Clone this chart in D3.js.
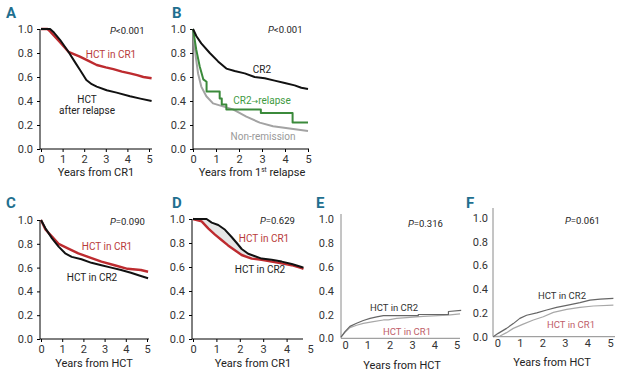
<!DOCTYPE html>
<html><head><meta charset="utf-8">
<script src="https://cdn.jsdelivr.net/npm/d3@7"></script>
<style>
body{margin:0;background:#fff}
text{font-family:Roboto,"Liberation Sans",sans-serif}
</style>
</head><body>
<svg id="c" width="617" height="371"></svg>
<script>
// ---------- data ----------
const yTicks = [0, 0.2, 0.4, 0.6, 0.8, 1.0];
const xTicks = [0, 1, 2, 3, 4, 5];

// Panel A: overall survival from CR1
const aHctCR1 = [[0,1],[0.3,1],[0.42,0.98],[0.88,0.89],[1.27,0.81],[1.8,0.77],[2.2,0.735],[2.58,0.70],[3.0,0.68],[3.35,0.665],[3.75,0.645],[4.12,0.63],[4.45,0.615],[4.74,0.60],[5.12,0.59]];
const aHctRelapse = [[0,1],[0.42,1],[0.6,0.97],[0.88,0.91],[1.27,0.81],[1.55,0.73],[1.8,0.66],[2.1,0.575],[2.35,0.54],[2.58,0.52],[3.04,0.49],[3.5,0.47],[4.12,0.44],[4.6,0.42],[5.12,0.40]];

// Panel B: survival from 1st relapse
const bCR2 = [[0,1],[0.15,0.94],[0.36,0.88],[0.73,0.80],[1.09,0.73],[1.45,0.67],[1.81,0.65],[2.25,0.63],[2.68,0.60],[3.12,0.59],[3.55,0.57],[3.99,0.55],[4.42,0.53],[4.71,0.51],[5.0,0.50]];
const bCR2Relapse = [[0,1],[0.14,0.83],[0.29,0.69],[0.45,0.58],[0.59,0.56],[0.59,0.48],[1.16,0.48],[1.16,0.42],[1.25,0.42],[1.25,0.37],[1.45,0.37],[1.45,0.33],[2.95,0.33],[2.95,0.30],[4.33,0.30],[4.33,0.22],[5.0,0.22]];
const bNonRemission = [[0,1],[0.12,0.77],[0.22,0.63],[0.36,0.52],[0.58,0.44],[0.87,0.38],[1.3,0.355],[1.74,0.33],[2.32,0.27],[2.9,0.22],[3.48,0.19],[4.2,0.17],[5.0,0.15]];

// Panel C: survival from HCT
const cHctCR1 = [[0,1],[0.21,0.92],[0.52,0.86],[0.83,0.80],[1.29,0.76],[1.76,0.72],[2.22,0.69],[2.85,0.65],[3.47,0.62],[4.08,0.59],[4.71,0.58],[5.05,0.565]];
const cHctCR2 = [[0,1],[0.21,0.93],[0.52,0.846],[0.83,0.776],[1.14,0.72],[1.45,0.69],[1.91,0.67],[2.38,0.64],[2.85,0.62],[3.31,0.60],[3.78,0.58],[4.24,0.557],[4.71,0.53],[5.05,0.51]];

// Panel D: survival from CR1
const dHctCR2 = [[0,1],[0.58,1],[0.8,0.97],[1.08,0.95],[1.37,0.91],[1.65,0.85],[1.87,0.80],[2.08,0.75],[2.36,0.71],[2.65,0.69],[2.93,0.67],[3.36,0.66],[3.79,0.645],[4.22,0.625],[4.64,0.60],[4.72,0.595]];
const dHctCR1 = [[0,1],[0.37,0.98],[0.66,0.92],[0.94,0.87],[1.22,0.825],[1.5,0.78],[1.79,0.74],[2.08,0.70],[2.51,0.67],[2.93,0.66],[3.36,0.645],[3.79,0.63],[4.22,0.615],[4.64,0.59],[4.72,0.585]];

// Panel E: cumulative incidence
const eHctCR2 = [[-0.18,0.01],[0,0.056],[0.22,0.10],[0.52,0.126],[0.82,0.15],[1.12,0.168],[1.42,0.18],[1.72,0.19],[3.28,0.19],[3.28,0.20],[4.63,0.20],[4.63,0.225],[5.2,0.235]];
const eHctCR1 = [[-0.18,0.01],[0,0.05],[0.22,0.09],[0.52,0.11],[0.82,0.126],[1.27,0.14],[1.72,0.154],[1.94,0.155],[2.31,0.168],[3.5,0.185],[4.6,0.195],[5.15,0.205]];

// Panel F: cumulative incidence
const fHctCR2 = [[-0.18,0],[0.04,0.028],[0.41,0.07],[0.71,0.11],[1.0,0.154],[1.3,0.18],[1.75,0.20],[2.19,0.224],[2.63,0.246],[3.08,0.263],[3.67,0.286],[4.11,0.308],[4.56,0.316],[5.15,0.322]];
const fHctCR1 = [[-0.18,0],[0.12,0.006],[0.41,0.034],[0.71,0.07],[1.15,0.106],[1.6,0.14],[2.04,0.168],[2.49,0.204],[3.08,0.23],[3.67,0.246],[4.26,0.258],[5.15,0.266]];

// ---------- drawing ----------
const svg = d3.select("#c");
const FONT = 'Roboto,"Liberation Sans",sans-serif';
const RED = "#bd2b2f", BLACK = "#111", GREEN = "#3b8a3b", GREY = "#a3a3a3", TEAL = "#1f6f8f";

function panel(cfg) {
  const g = svg.append("g");
  const x = d3.scaleLinear().domain([0, 5]).range([cfg.x0, cfg.x5]);
  const y = d3.scaleLinear().domain([0, 1]).range([cfg.yb, cfg.yt]);
  const axCol = cfg.axCol || "#000";
  g.append("line").attr("x1", cfg.ax).attr("x2", cfg.ax).attr("y1", cfg.axTop || cfg.yt).attr("y2", cfg.yb).attr("stroke", axCol);
  g.append("line").attr("x1", cfg.ax).attr("x2", cfg.xEnd).attr("y1", cfg.yb).attr("y2", cfg.yb).attr("stroke", axCol);
  const ya = d3.axisLeft(y).tickValues(yTicks).tickFormat(d3.format(".1f")).tickSize(cfg.tick).tickPadding(cfg.ypad || 4);
  const yg = g.append("g").attr("transform", `translate(${cfg.ax},0)`).call(ya);
  const xa = d3.axisBottom(x).tickValues(xTicks).tickFormat(d3.format("d")).tickSize(cfg.tick).tickPadding(3);
  const xg = g.append("g").attr("transform", `translate(0,${cfg.yb})`).call(xa);
  [yg, xg].forEach(a => {
    a.select(".domain").remove();
    a.selectAll("line").attr("stroke", axCol);
    a.selectAll("text").attr("font-size", 11).attr("fill", "#333").attr("font-family", FONT);
  });
  if (cfg.noTick5) xg.selectAll(".tick").filter(d => d === 5).select("line").remove();
  if (cfg.shade) {
    const line = d3.line().x(d => x(d[0])).y(d => y(d[1]));
    const up = cfg.shade[0].filter(d => d[0] <= cfg.shadeTo);
    const lo = cfg.shade[1].filter(d => d[0] <= cfg.shadeTo).slice().reverse();
    g.append("path").attr("d", line(up.concat(lo)) + "Z").attr("fill", "#e6e6e6").attr("stroke", "none");
  }
  cfg.series.forEach(s => {
    g.append("path").datum(s.data)
      .attr("d", d3.line().x(d => x(d[0])).y(d => y(d[1])).curve(d3.curveLinear))
      .attr("fill", "none").attr("stroke", s.color).attr("stroke-width", s.w)
      .attr("stroke-linejoin", "round");
  });
  g.append("text").attr("x", cfg.lx).attr("y", cfg.ly).text(cfg.letter)
    .attr("font-size", 15).attr("font-weight", "bold").attr("fill", TEAL);
  const pt = g.append("text").attr("x", cfg.px).attr("y", cfg.py).attr("font-size", 9.5).attr("fill", "#222");
  pt.append("tspan").attr("font-style", "italic").text("P");
  pt.append("tspan").text(cfg.p);
  cfg.labels.forEach(l => {
    const t = g.append("text").attr("x", l.x).attr("y", l.y).attr("text-anchor", "middle")
      .attr("font-size", l.fs || 10).attr("fill", l.color);
    if (l.parts) {
      l.parts.forEach(p => {
        const ts = t.append("tspan").text(p.t);
        if (p.font) ts.attr("font-family", p.font).attr("font-size", p.fs);
      });
    } else t.text(l.t);
  });
  const xt = g.append("text").attr("x", cfg.tx).attr("y", cfg.ty).attr("text-anchor", "middle")
    .attr("font-size", 11).attr("fill", "#222");
  if (cfg.sup) {
    xt.append("tspan").text(cfg.title);
    xt.append("tspan").attr("font-size", 6.5).attr("dy", -4).text(cfg.sup);
    xt.append("tspan").attr("dy", 4).text(cfg.title2);
  } else xt.text(cfg.title);
}

panel({letter: "A", lx: 6, ly: 18, ax: 40, x0: 41, x5: 149, yt: 29, yb: 149, xEnd: 152, tick: 3,
  p: "<0.001", px: 110, py: 34,
  series: [{data: aHctCR1, color: RED, w: 2.4}, {data: aHctRelapse, color: BLACK, w: 2}],
  labels: [{t: "HCT in CR1", x: 111, y: 58, color: "#b83a3a"}, {t: "HCT", x: 87, y: 103, color: "#222"}, {t: "after relapse", x: 87, y: 114, color: "#222"}],
  title: "Years from CR1", tx: 96, ty: 176});

panel({letter: "B", lx: 172, ly: 18, ax: 193, x0: 193, x5: 308, yt: 29, yb: 149, xEnd: 309, tick: 3,
  p: "<0.001", px: 268, py: 33,
  series: [{data: bNonRemission, color: GREY, w: 2}, {data: bCR2Relapse, color: GREEN, w: 2}, {data: bCR2, color: BLACK, w: 2}],
  labels: [{t: "CR2", x: 262, y: 73, color: "#222"},
           {parts: [{t: "CR2"}, {t: "\u2192", font: '"DejaVu Sans",sans-serif', fs: 8}, {t: "relapse"}], x: 262, y: 104, color: "#3f9a3f"},
           {t: "Non-remission", x: 263, y: 140, color: "#999"}],
  title: "Years from 1", sup: "st", title2: " relapse", tx: 252, ty: 176});

panel({letter: "C", lx: 6, ly: 208, ax: 40, x0: 41, x5: 147, yt: 220, yb: 339, xEnd: 149, tick: 3,
  p: "=0.090", px: 110, py: 225,
  series: [{data: cHctCR1, color: RED, w: 2.4}, {data: cHctCR2, color: BLACK, w: 2}],
  labels: [{t: "HCT in CR1", x: 107, y: 250, color: "#b83a3a"}, {t: "HCT in CR2", x: 92, y: 281, color: "#222"}],
  title: "Years from HCT", tx: 94, ty: 367});

panel({letter: "D", lx: 172, ly: 208, ax: 192, x0: 193, x5: 310, yt: 219, yb: 339, xEnd: 303, tick: 3, noTick5: true,
  p: "=0.629", px: 260, py: 224,
  shade: [dHctCR2, dHctCR1], shadeTo: 2.95,
  series: [{data: dHctCR1, color: RED, w: 2.4}, {data: dHctCR2, color: BLACK, w: 2}],
  labels: [{t: "HCT in CR1", x: 264, y: 242, color: "#b83a3a"}, {t: "HCT in CR2", x: 260, y: 273, color: "#222"}],
  title: "Years from CR1", tx: 253, ty: 367});

panel({letter: "E", lx: 316, ly: 208, ax: 341, axTop: 214, x0: 345, x5: 456.7, yt: 219.3, yb: 338.3, xEnd: 460, tick: 0, ypad: 7, axCol: "#8a8a8a",
  p: "=0.316", px: 408, py: 227,
  series: [{data: eHctCR1, color: "#a8a8a8", w: 1.2}, {data: eHctCR2, color: "#666", w: 1.2}],
  labels: [{t: "HCT in CR2", x: 394, y: 311, color: "#333", fs: 9.5}, {t: "HCT in CR1", x: 407, y: 335, color: "#c0606a", fs: 9.5}],
  title: "Years from HCT", tx: 402, ty: 369});

panel({letter: "F", lx: 466, ly: 208, ax: 493, axTop: 208, x0: 497.3, x5: 610, yt: 217.7, yb: 336.7, xEnd: 615, tick: 0, ypad: 5, axCol: "#8a8a8a",
  p: "=0.061", px: 565, py: 224,
  series: [{data: fHctCR1, color: "#a8a8a8", w: 1.2}, {data: fHctCR2, color: "#666", w: 1.2}],
  labels: [{t: "HCT in CR2", x: 562, y: 299, color: "#333", fs: 9.5}, {t: "HCT in CR1", x: 571, y: 328, color: "#c0606a", fs: 9.5}],
  title: "Years from HCT", tx: 552, ty: 366});
</script>
</body></html>
